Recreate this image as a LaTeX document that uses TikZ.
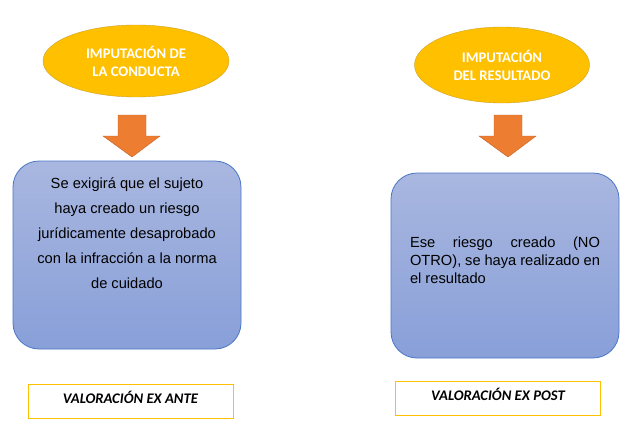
\documentclass[tikz,border=0pt]{standalone}
\usepackage{fontspec}
\setmainfont{Liberation Sans}
\newfontfamily\calibri{Carlito}
\usetikzlibrary{positioning,shapes.geometric}
\definecolor{gold}{HTML}{FFC000}
\definecolor{golddark}{HTML}{C9A227}
\definecolor{orangearrow}{HTML}{ED7D31}
\definecolor{orangedark}{HTML}{C0622A}
\definecolor{boxtop}{HTML}{A9B7E0}
\definecolor{boxbottom}{HTML}{889FD8}
\definecolor{boxline}{HTML}{4A76C6}
\tikzset{
      imputacion/.style={ellipse,draw=golddark,fill=gold,minimum width=186pt,minimum height=72pt,
        inner sep=0pt,align=center,text=white,font=\calibri\bfseries\fontsize{14.67}{18}\selectfont},
      card/.style={draw=boxline,line width=0.8pt,top color=boxtop,bottom color=boxbottom,
        rounded corners=26pt,minimum width=228pt,minimum height=188pt},
      cardtext/.style={font=\fontsize{14.67}{25}\selectfont,align=center},
      tag/.style={draw=gold,line width=0.8pt,minimum width=205pt,minimum height=34pt,inner sep=0pt},
      tagtext/.style={font=\calibri\bfseries\itshape\fontsize{14.67}{17}\selectfont},
      blockarrow/.style={fill=orangearrow,draw=orangedark,line width=0.4pt}
    }

\begin{document}
\begin{tikzpicture}[x=1pt,y=-1pt]
\useasboundingbox (0,0) rectangle (634,436);
% left column
\node[imputacion] (conducta) at (136,61) {IMPUTACIÓN DE\\LA CONDUCTA};
\filldraw[blockarrow] (118,115) -- (146,115) -- (146,136) -- (160,136) -- (132,157)
    -- (103,136) -- (118,136) -- cycle;
\node[card] (riesgo) at (127,255) {};
\node[cardtext] (riesgotext) at (127,233) {Se exigirá que el sujeto\\haya creado un riesgo\\jurídicamente desaprobado\\con la infracción a la norma\\de cuidado};
\node[tag] (exante) at (130.5,401) {};
\node[tagtext,below=4pt of exante.north] (exantetext) {VALORACIÓN EX ANTE};
% right column
\node[imputacion,minimum width=175pt,minimum height=76pt] (resultado) at (502,65) {IMPUTACIÓN\\DEL RESULTADO};
\filldraw[blockarrow] (494,115) -- (522,115) -- (522,136) -- (536,136) -- (508,157)
    -- (479,136) -- (494,136) -- cycle;
\node[card,minimum height=185pt] (realizacion) at (505,265.5) {};
\node[font=\fontsize{14.67}{18}\selectfont,align=justify,text width=190pt,inner sep=0pt]
    (realizaciontext) at (505,260) {Ese riesgo creado (NO\linebreak OTRO), se haya realizado en\linebreak el resultado};
\node[tag] (expost) at (498,398.5) {};
\node[tagtext,below=4pt of expost.north] (exposttext) {VALORACIÓN EX POST};
\end{tikzpicture}
\end{document}
